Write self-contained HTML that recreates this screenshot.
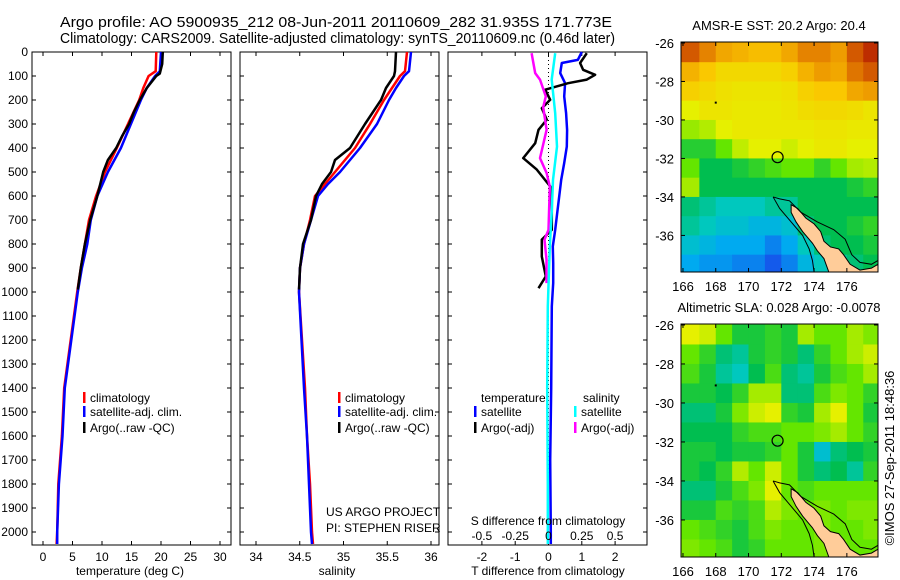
<!DOCTYPE html>
<html><head><meta charset="utf-8"><style>
html,body{margin:0;padding:0;background:#fff;}
svg{display:block;font-family:"Liberation Sans",sans-serif;}
text{fill:#000;}
</style></head><body>
<svg id="c" width="900" height="580" viewBox="0 0 900 580" xmlns="http://www.w3.org/2000/svg">
<text x="60" y="27" font-size="15" textLength="552" lengthAdjust="spacingAndGlyphs">Argo profile: AO 5900935_212 08-Jun-2011 20110609_282 31.935S 171.773E</text>
<text x="60" y="43" font-size="15" textLength="555" lengthAdjust="spacingAndGlyphs">Climatology: CARS2009. Satellite-adjusted climatology: synTS_20110609.nc (0.46d later)</text>
</svg>
<script>
// ---- data ----
const tDepthClim = [0,80,100,150,200,300,400,500,600,700,800,900,1000,1400,1600,1800,2000,2050];
const tempClim = [19.2,19.1,17.9,17.0,16.3,14.4,12.5,10.5,9.0,7.8,7.1,6.4,5.8,3.6,3.2,2.6,2.4,2.3];
const tempSat = [20.0,19.8,19.0,17.6,16.6,14.9,13.2,11.0,9.2,8.1,7.5,6.6,5.9,3.7,3.3,2.7,2.4,2.4];
const tDepthArgo = [0,50,90,100,150,200,250,300,350,400,450,500,600,700,800,900,990];
const tempArgo = [20.3,20.2,19.8,19.2,17.6,16.4,15.4,14.6,13.4,12.4,11.0,10.2,9.2,8.0,7.1,6.4,5.9];
const sDepthClim = [0,80,100,150,200,300,400,450,500,550,600,700,800,900,1000,1400,1600,1800,2000,2050];
const salClim = [35.726,35.703,35.646,35.554,35.463,35.303,35.131,35.017,34.903,34.789,34.674,34.617,34.549,34.503,34.491,34.56,34.583,34.617,34.64,34.651];
const salSat = [35.771,35.749,35.691,35.6,35.52,35.383,35.189,35.074,34.96,34.823,34.709,34.629,34.549,34.503,34.491,34.549,34.583,34.606,34.629,34.64];
const sDepthArgo = [0,80,100,150,200,300,400,450,500,550,600,700,800,900,990];
const salArgo = [35.6,35.589,35.577,35.486,35.429,35.246,35.074,34.903,34.857,34.754,34.686,34.629,34.537,34.503,34.491];
const dDepthSatT = [0,33,46,88,130,185,255,325,394,463,533,602,671,741,810,880,963,1060,1400,1700,2000,2050];
const dTempSat = [1.0,0.88,0.4,0.35,0.5,0.47,0.53,0.56,0.55,0.47,0.38,0.32,0.26,0.2,0.13,0.14,0.14,0.1,0.08,0.05,0.07,0.07];
const dDepthArgoT = [5,46,74,95,115,130,157,199,234,282,324,380,442,490,560,600,741,782,852,935,984];
const dTempArgo = [1.15,0.95,1.04,1.4,1.15,0.59,-0.1,0.05,-0.2,-0.05,-0.3,-0.4,-0.76,-0.35,0.05,0.1,0.1,-0.2,-0.2,-0.08,-0.3];
const dDepthArgoS = [5,88,115,185,230,324,442,504,560,741,782,865,963];
const dSalArgo = [-0.127,-0.1,-0.064,-0.02,-0.04,-0.014,-0.064,-0.014,0.01,0,-0.03,-0.015,-0.015];
const dDepthSatS = [5,115,255,394,533,671,810,1060,1400,1800,2050];
const dSalSat = [0.05,0.024,0.05,0.064,0.034,0.024,0.01,-0.005,-0.01,-0.005,-0.005];
const depthTicks = [0,100,200,300,400,500,600,700,800,900,1000,1100,1200,1300,1400,1500,1600,1700,1800,1900,2000];
const tempTicks = [0,5,10,15,20,25,30];
const salTicks = [34,34.5,35,35.5,36];
const salTickLabels = ["34","34.5","35","35.5","36"];
const dTTicks = [-2,-1,0,1,2];
const dSTicks = [-0.5,-0.25,0,0.25,0.5];
const dSTickLabels = ["-0.5","-0.25","0","0.25","0.5"];
const lonTicks = [166,168,170,172,174,176];
const latTicks = [-26,-28,-30,-32,-34,-36];
const sstGrid = [
[0.88,0.82,0.76,0.74,0.72,0.72,0.76,0.82,0.82,0.78,0.88,0.94],
[0.74,0.7,0.66,0.66,0.66,0.66,0.68,0.74,0.78,0.76,0.84,0.88],
[0.68,0.66,0.64,0.63,0.63,0.63,0.64,0.68,0.7,0.7,0.76,0.78],
[0.6,0.63,0.63,0.62,0.62,0.62,0.63,0.65,0.66,0.66,0.65,0.63],
[0.54,0.56,0.6,0.62,0.62,0.62,0.62,0.62,0.63,0.63,0.62,0.62],
[0.45,0.45,0.5,0.57,0.6,0.6,0.58,0.6,0.62,0.62,0.6,0.6],
[0.5,0.42,0.42,0.44,0.46,0.48,0.5,0.5,0.46,0.5,0.55,0.56],
[0.55,0.42,0.42,0.42,0.42,0.42,0.42,0.42,0.42,0.42,0.44,0.46],
[0.4,0.38,0.36,0.36,0.36,0.38,0.38,0.42,0.42,0.42,0.42,0.42],
[0.38,0.36,0.34,0.34,0.32,0.32,0.34,0.4,0.42,0.42,0.44,0.46],
[0.34,0.32,0.3,0.3,0.3,0.26,0.3,0.36,0.4,0.42,0.42,0.44],
[0.3,0.28,0.28,0.26,0.26,0.22,0.26,0.32,0.36,0.38,0.4,0.42]];
const slaGrid = [
[0.6,0.58,0.5,0.44,0.44,0.46,0.44,0.55,0.5,0.5,0.55,0.52],
[0.5,0.46,0.4,0.38,0.44,0.46,0.44,0.4,0.46,0.5,0.55,0.58],
[0.48,0.44,0.38,0.36,0.42,0.48,0.4,0.38,0.44,0.48,0.5,0.55],
[0.44,0.44,0.42,0.46,0.55,0.55,0.4,0.4,0.48,0.52,0.5,0.46],
[0.4,0.4,0.44,0.52,0.58,0.6,0.46,0.44,0.55,0.6,0.5,0.44],
[0.42,0.42,0.42,0.46,0.48,0.48,0.5,0.5,0.52,0.55,0.5,0.46],
[0.44,0.44,0.42,0.44,0.44,0.46,0.5,0.44,0.34,0.4,0.42,0.44],
[0.44,0.42,0.46,0.56,0.5,0.58,0.5,0.44,0.4,0.42,0.38,0.46],
[0.4,0.4,0.44,0.48,0.52,0.6,0.5,0.48,0.5,0.5,0.5,0.5],
[0.44,0.44,0.48,0.46,0.48,0.56,0.52,0.5,0.52,0.5,0.52,0.52],
[0.5,0.48,0.46,0.44,0.48,0.52,0.5,0.5,0.52,0.5,0.5,0.52],
[0.52,0.5,0.48,0.44,0.46,0.5,0.5,0.5,0.52,0.52,0.5,0.5]];
const landLon = [172.6,173,173.5,174,174.4,174.6,175,175.5,175.8,176.2,176.8,177.5,177.9,177.9,174.9,174.6,174.2,173.9,173.3,172.9,172.6];
const landLat = [-34.4,-34.6,-35.1,-35.4,-35.8,-36.3,-36.6,-36.7,-37,-37.5,-37.8,-37.7,-37.5,-37.9,-37.9,-37.2,-36.8,-36.4,-35.8,-35.3,-34.8];
const contourLon = [171.5,171.9,172.5,173.2,174.2,175.2,175.9,176.3,176.8,177.5,177.9];
const contourLat = [-34.0,-34.1,-34.2,-34.8,-35.3,-35.7,-36.2,-37.0,-37.4,-37.5,-37.3];
const contour2Lon = [171.5,171.9,172.6,173.3,173.7,173.9,174.0];
const contour2Lat = [-34.0,-34.6,-35.3,-36.0,-36.7,-37.3,-37.9];
const argoLon = 171.773, argoLat = -31.935;

// ---- helpers ----
const NS = "http://www.w3.org/2000/svg";
const svg = document.getElementById('c');
function mk(tag, attrs, parent){const e=document.createElementNS(NS,tag);for(const k in attrs)e.setAttribute(k,attrs[k]);(parent||svg).appendChild(e);return e;}
function txt(s,x,y,anchor,size){const t=mk('text',{x:x,y:y,'font-size':size||12,'text-anchor':anchor||'start'});t.textContent=s;return t;}

const top0=52, bot=545;
const yD = d => top0 + d*0.24;

function drawFrame(x0,x1,name){
  const r=mk('rect',{x:x0,y:top0,width:x1-x0,height:bot-top0,fill:'none',stroke:'#000','stroke-width':1});
  
  
  for(const d of depthTicks){
    mk('line',{x1:x0,x2:x0+4,y1:yD(d),y2:yD(d),stroke:'#000'});
    mk('line',{x1:x1-4,x2:x1,y1:yD(d),y2:yD(d),stroke:'#000'});
  }
}
function xTicks(vals,labels,fx,name){
  vals.forEach((v,i)=>{
    const x=fx(v);
    mk('line',{x1:x,x2:x,y1:bot,y2:bot-4,stroke:'#000'});
    mk('line',{x1:x,x2:x,y1:top0,y2:top0+4,stroke:'#000'});
    const t=txt(labels[i],x,561,'middle');
    
    
  });
}
function line(xs,ds,fx,color,w,name){
  const pts=xs.map((v,i)=>fx(v).toFixed(1)+','+yD(ds[i]).toFixed(1)).join(' ');
  const p=mk('polyline',{points:pts,fill:'none',stroke:color,'stroke-width':w,'stroke-linejoin':'round'});
  
  
}
function legend(x,y,color,label){
  mk('rect',{x:x,y:y-10,width:2.5,height:11,fill:color});
  const t=txt(label,x+7,y);
  
  
}

for(const d of depthTicks){
  const t=txt(String(d),28,yD(d)+4,'end');
  
  
}

// Panel 1: temperature
const fT = v => 43 + v*5.9;
drawFrame(32,231,'temperature-panel');
xTicks(tempTicks,tempTicks.map(String),fT,'temperature-tick-label');
line(tempClim,tDepthClim,fT,'#ff0000',2.5,'temperature-climatology-line');
line(tempSat,tDepthClim,fT,'#0000ff',2.5,'temperature-satellite-line');
line(tempArgo,tDepthArgo,fT,'#000000',2.5,'temperature-argo-line');
{const t=txt('temperature (deg C)',130,575,'middle');}
legend(83,402,'#ff0000','climatology');
legend(83,416,'#0000ff','satellite-adj. clim.');
legend(83,432,'#000000','Argo(..raw -QC)');

// Panel 2: salinity
const fS = v => 256 + (v-34)*87.5;
drawFrame(240,439,'salinity-panel');
xTicks(salTicks,salTickLabels,fS,'salinity-tick-label');
line(salClim,sDepthClim,fS,'#ff0000',2.5,'salinity-climatology-line');
line(salSat,sDepthClim,fS,'#0000ff',2.5,'salinity-satellite-line');
line(salArgo,sDepthArgo,fS,'#000000',2.5,'salinity-argo-line');
{const t=txt('salinity',337,575,'middle');}
legend(338,402,'#ff0000','climatology');
legend(338,416,'#0000ff','satellite-adj. clim.');
legend(338,432,'#000000','Argo(..raw -QC)');
{const t=txt('US ARGO PROJECT',326,516);}
{const t=txt('PI: STEPHEN RISER',326,532);}

// Panel 3: differences
const fDT = v => 548.5 + v*33.3;
const fDS = v => 548.5 + v*133.2;
drawFrame(448,647,'difference-panel');
xTicks(dTTicks,dTTicks.map(String),fDT,'t-difference-tick-label');
mk('line',{x1:548.5,x2:548.5,y1:top0,y2:bot,stroke:'#000','stroke-dasharray':'1,3'});
line(dTempSat,dDepthSatT,fDT,'#0000ff',2.5,'t-diff-satellite-line');
line(dTempArgo,dDepthArgoT,fDT,'#000000',2.5,'t-diff-argo-line');
line(dSalArgo,dDepthArgoS,fDS,'#ff00ff',2.5,'s-diff-argo-line');
line(dSalSat,dDepthSatS,fDS,'#00ffff',2.5,'s-diff-satellite-line');
dSTicks.forEach((v,i)=>{const t=txt(dSTickLabels[i],fDS(v),540,'middle');});
{const t=txt('S difference from climatology',548,525,'middle');}
{const t=txt('T difference from climatology',548,575,'middle');}
{const t=txt('temperature',481,402);}
{const t=txt('salinity',583,402);}
legend(474,416,'#0000ff','satellite');
legend(474,432,'#000000','Argo(-adj)');
legend(574,416,'#00ffff','satellite');
legend(574,432,'#ff00ff','Argo(-adj)');

// ---- maps ----
const stops=[[0.15,[0,40,200]],[0.22,[20,90,235]],[0.3,[0,170,240]],[0.36,[0,200,190]],[0.42,[0,190,80]],[0.5,[100,230,0]],[0.6,[230,240,0]],[0.7,[250,200,0]],[0.8,[235,145,0]],[0.9,[205,75,0]],[1.0,[165,0,0]]];
function cmap(v){
  if(v<=stops[0][0])return 'rgb('+stops[0][1]+')';
  for(let i=1;i<stops.length;i++){if(v<=stops[i][0]){const a=stops[i-1],b=stops[i];const f=(v-a[0])/(b[0]-a[0]);return 'rgb('+a[1].map((c,k)=>Math.round(c+(b[1][k]-c)*f)).join(',')+')';}}
  return 'rgb('+stops[stops.length-1][1]+')';
}
function drawMap(y0,y1,grid,name,title){
  const x0=681,x1=878;
  const lonMin=165.88,lonMax=177.9;
  const latTop=-25.95,latBot=-37.9;
  const fx=lo=>x0+(lo-lonMin)/(lonMax-lonMin)*(x1-x0);
  const fy=la=>y0+(latTop-la)/(latTop-latBot)*(y1-y0);
  const g=mk('g',{});
  
  
  grid.forEach((row,r)=>row.forEach((v,c)=>{
    const lo=166+c, la=-26-r;
    const xa=Math.max(x0,fx(lo-(c==0?0.2:0))), xb=Math.min(x1,fx(lo+1+(c==11?0.2:0)));
    const ya=Math.max(y0,fy(la+(r==0?0.1:0))), yb=Math.min(y1,fy(la-1));
    const cell=mk('rect',{x:xa,y:ya,width:xb-xa+0.5,height:yb-ya+0.5,fill:cmap(v)},g);
    
    
  }));
  const land=mk('polygon',{points:landLon.map((lo,i)=>fx(lo)+','+fy(landLat[i])).join(' '),fill:'#ffcc99',stroke:'#000','stroke-width':1},g);
  
  
  mk('polyline',{points:contourLon.map((lo,i)=>fx(lo)+','+fy(contourLat[i])).join(' '),fill:'none',stroke:'#000','stroke-width':1},g);
  mk('polyline',{points:contour2Lon.map((lo,i)=>fx(lo)+','+fy(contour2Lat[i])).join(' '),fill:'none',stroke:'#000','stroke-width':1},g);
  const circ=mk('circle',{cx:fx(argoLon),cy:fy(argoLat),r:5.5,fill:'none',stroke:'#000','stroke-width':1.2},g);
  
  
  mk('rect',{x:fx(168)-1,y:fy(-29.1)-1,width:2,height:2,fill:'#000'},g);
  mk('rect',{x:x0,y:y0,width:x1-x0,height:y1-y0,fill:'none',stroke:'#000'});
  lonTicks.forEach(lo=>{const x=fx(lo);mk('line',{x1:x,x2:x,y1:y1,y2:y1-4,stroke:'#000'});mk('line',{x1:x,x2:x,y1:y0,y2:y0+4,stroke:'#000'});
    const t=txt(String(lo),x,y1+19,'middle',13);});
  latTicks.forEach(la=>{const y=fy(la);mk('line',{x1:x0,x2:x0+4,y1:y,y2:y,stroke:'#000'});mk('line',{x1:x1-4,x2:x1,y1:y,y2:y,stroke:'#000'});
    const t=txt(String(la),674,y+5,'end',13);});
  const tt=txt(title,779,y0-12,'middle',13);
  
  
}
drawMap(42,272,sstGrid,'sst-map','AMSR-E SST: 20.2 Argo: 20.4');
drawMap(324,557,slaGrid,'sla-map','Altimetric SLA: 0.028 Argo: -0.0078');
{const t=txt('\u00A9IMOS 27-Sep-2011 18:48:36',0,0,'middle',13);t.setAttribute('transform','translate(894,458) rotate(-90)');}
</script>
</body></html>
